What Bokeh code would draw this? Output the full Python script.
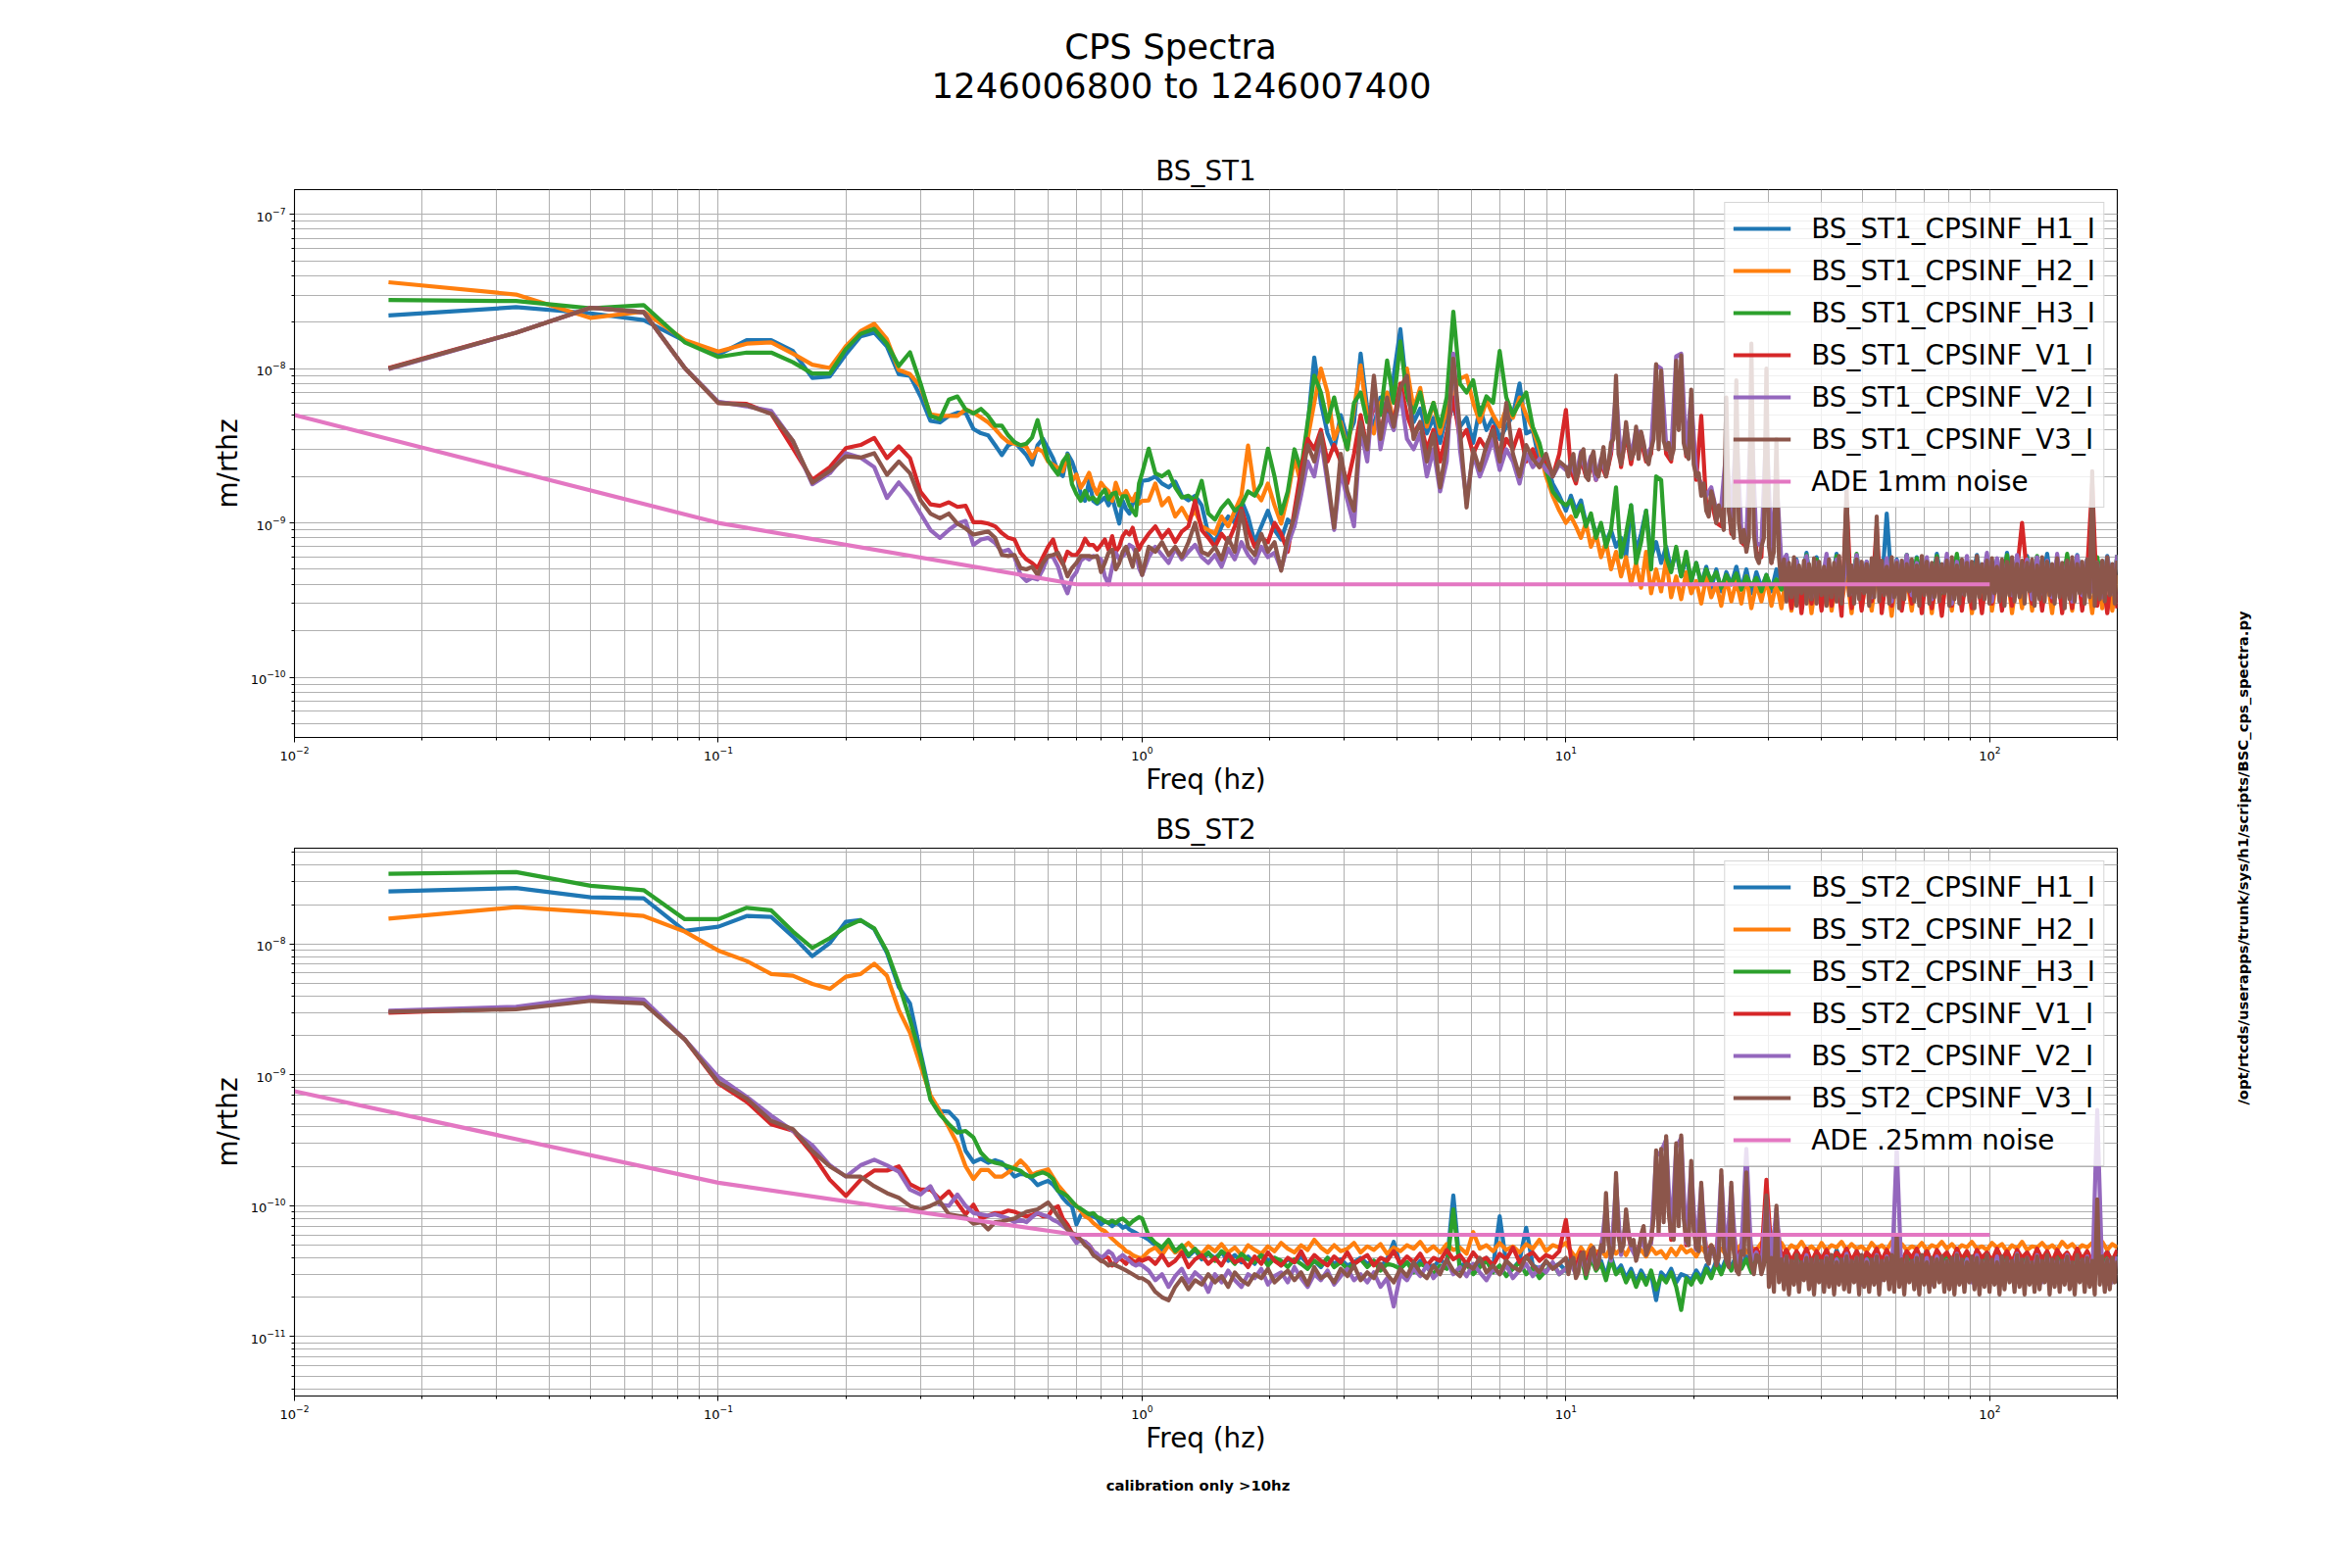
import numpy as np
from bokeh.plotting import figure
from bokeh.layouts import row, column
from bokeh.models import Range1d, FixedTicker, Label, Legend, LegendItem
from bokeh.embed import file_html
from bokeh.resources import INLINE

FONT = "DejaVu Sans"
COLORS = ["#1f77b4", "#ff7f0e", "#2ca02c", "#d62728", "#9467bd", "#8c564b"]
ADE_COLOR = "#e377c2"

# ---------------- data: BS_ST1 (values in units of 1e-11 m/rthz) ----------------
# lo: FFT bins k/60 Hz (k=1..60); mid: 1-10 Hz; hi: 10-200 Hz
st1_names = ["BS_ST1_CPSINF_H1_I", "BS_ST1_CPSINF_H2_I", "BS_ST1_CPSINF_H3_I",
             "BS_ST1_CPSINF_V1_I", "BS_ST1_CPSINF_V2_I", "BS_ST1_CPSINF_V3_I"]

st1_h1_lo = [2210,2500,2280,2060,1510,1230,1530,1530,1300,870,890,1240,1620,1710,1390,920,900,
             661,458,448,494,518,518,406,381,369,319,275,319,334,303,275,238,319,351,303,262,216,201,282,250,206,154,139,187,139,133,139,146,130,146,120,99,139,123,115,133,139,146,187]
st1_h2_lo = [3630,3020,2130,2340,1530,1290,1450,1480,1250,1060,1010,1400,1750,1950,1550,980,920,
             765,506,494,494,494,544,518,482,448,406,362,334,326,319,311,265,303,289,250,238,227,216,275,187,206,169,187,211,173,154,182,169,161,139,182,157,149,161,146,139,154,133,139]
st1_h3_lo = [2780,2740,2460,2580,1480,1190,1270,1270,1100,930,930,1340,1680,1810,1450,1040,1276,
             803,494,470,630,660,544,512,548,494,427,427,369,334,319,326,358,464,334,256,227,206,250,275,178,154,139,161,142,146,136,154,164,142,154,157,130,149,149,130,120,112,180,210]
st1_v1_lo = [1010,1710,2480,2320,1010,600,590,510,305,190,230,305,320,355,263,313,263,
             159,132,129,136,127,129,101,101,99,95,86,80,78,64,58,55,51,60,70,78,61,54,65,62,62,68,79,72,72,67,72,78,67,82,65,70,82,88,84,93,78,67,74]
st1_v2_lo = [990,1710,2480,2320,1010,610,570,531,340,178,210,283,265,230,145,183,150,
             115,90,80,90,99,103,72,78,80,74,65,67,60,46,42,44,43,50,61,60,52,41,35,44,48,57,60,58,61,60,58,45,40,52,64,58,61,64,72,70,64,51,46]
st1_v3_lo = [1000,1710,2480,2320,1010,600,580,510,340,182,217,270,265,283,205,250,210,
             140,115,107,115,99,92,84,86,88,80,62,61,62,51,50,52,46,55,61,62,64,55,45,51,55,61,61,61,60,61,48,55,64,67,50,55,65,70,60,52,67,58,46]

st1_h1_mid = [190,200,180,170,185,150,140,150,130,85,75,95,110,100,140,110,75,95,120,90,
              78,105,95,200,420,1180,600,380,300,500,350,450,1250,550,420,650,500,900,1800,700,
              450,550,380,480,330,520,560,420,480,330,560,400,480,350,420,500,800,380,400,250,
              250,180,150,120]
st1_h2_mid = [140,180,130,145,110,125,105,120,95,90,85,110,95,120,150,317,160,140,180,130,
              99,150,262,180,350,600,1000,700,350,450,300,550,1050,480,380,600,700,450,650,1000,
              550,750,420,600,380,550,700,860,900,600,450,620,500,420,550,480,650,500,406,300,
              200,150,120,100]
st1_h3_mid = [303,210,200,215,170,146,150,139,187,115,105,125,140,120,130,160,150,180,303,200,
              115,160,300,220,450,900,700,450,650,420,300,600,700,450,550,500,1130,600,1500,650,
              520,700,450,600,420,650,2340,800,700,840,500,660,600,1300,650,500,600,700,420,330,
              220,160,140,130]
st1_v1_mid = [85,95,80,90,75,88,95,139,90,80,70,85,75,95,124,90,70,80,75,100,
              85,65,120,220,350,300,400,250,320,250,180,280,500,300,650,380,600,450,800,500,
              380,450,300,400,250,380,650,350,400,280,350,300,420,260,350,300,400,250,300,230,
              260,200,280,540]
st1_v2_mid = [60,70,62,55,68,58,65,72,60,55,62,52,68,58,75,62,55,70,60,64,
              50,72,95,150,250,200,350,180,90,220,140,95,400,250,800,300,500,400,700,350,
              300,380,200,300,160,250,1250,300,140,280,200,260,350,220,300,250,180,280,230,260,
              220,200,240,220]
st1_v3_mid = [70,65,75,62,70,60,75,100,65,62,70,58,80,65,120,70,62,85,65,75,
              49,80,110,180,320,250,380,200,93,280,160,120,450,300,900,350,650,420,750,900,
              350,450,250,380,170,320,1160,400,126,300,220,320,400,250,600,280,200,320,260,230,
              280,200,250,230]

st1_h1_hi = [150,120,140,100,110,85,95,75,90,70,80,60,130,65,85,120,60,75,55,70,
             50,65,45,60,42,55,40,52,38,50,36,48,40,52,37,50,35,48,38,46,36,50,40,
             62,38,58,40,64,36,60,42,57,39,63,37,59,41,61,38,56,40,64,37,115,39,58,41,62,36,
             60,40,57,38,63,41,59,37,61,39,56,42,62,38,60,40,58,36,64,39,57,41,61,37,59,40,
             63,38,56,41,60,37,62,39,58,40,57,36,61,38,59]
st1_h2_hi = [110,95,80,100,70,85,60,75,50,65,45,60,40,55,38,65,35,50,36,58,
             33,45,32,48,35,42,30,45,33,40,29,44,31,42,30,45,28,40,31,43,29,41,28,
             48,27,45,29,50,26,46,28,49,27,44,30,47,26,51,28,45,27,48,29,46,25,50,28,44,27,
             49,30,46,26,48,28,45,27,51,29,47,26,44,28,49,27,46,30,48,26,45,28,50,27,47,29,
             44,26,49,28,46,27,48,30,45,26,50,28,47,27,46]
st1_h3_hi = [140,110,130,95,115,80,100,70,90,170,60,85,130,55,75,120,50,200,190,60,
             48,70,45,65,42,55,40,50,42,48,38,46,40,47,37,45,39,44,36,46,38,43,37,
             60,36,56,39,62,34,58,40,55,37,61,35,57,39,63,36,54,38,60,35,58,40,56,34,62,37,
             59,36,55,39,61,35,57,38,63,34,56,40,58,36,60,37,55,39,62,35,57,38,59,36,61,34,
             56,40,58,37,63,35,57,38,55,36,60,39,58,35,62]
st1_v1_hi = [220,180,260,200,250,190,240,200,280,600,230,380,240,360,340,250,280,800,700,280,
             250,900,850,270,550,190,494,130,140,100,95,200,85,300,75,70,400,65,60,350,55,150,50,
             50,28,52,26,48,30,54,27,49,29,51,25,140,28,53,27,50,31,95,26,48,29,52,27,46,30,
             54,26,49,28,45,25,51,29,48,27,53,28,47,26,50,30,48,27,52,29,49,100,46,30,51,27,
             48,31,50,26,47,28,53,27,49,180,29,48,26,51,28]
st1_v2_hi = [240,200,290,210,270,190,260,210,300,700,250,420,270,400,380,270,310,1050,1000,320,
             280,1200,1250,300,650,210,180,150,170,120,130,300,110,400,90,80,500,75,70,450,65,200,55,
             62,34,57,38,61,33,55,40,63,36,58,32,60,35,62,37,56,33,64,36,59,31,57,38,62,34,
             55,37,60,32,58,36,63,30,56,35,61,33,57,39,64,31,59,36,55,34,62,38,58,32,60,35,
             57,33,63,37,56,31,61,34,58,36,55,33,60,35,62]
st1_v3_hi = [200,250,280,190,210,280,300,200,190,260,290,210,200,250,310,200,240,330,350,900,
             280,240,300,450,320,260,280,420,260,390,330,260,240,300,350,1070,300,970,340,300,
             330,260,300,1125,400,1220,330,280,260,730,240,200,210,150,180,120,110,160,140,100,
             130,110,90,650,120,90,80,840,100,75,90,65,80,1450,85,60,55,70,80,1000,
             70,55,65,350,60,40,
             58,31,55,33,60,29,53,35,57,30,54,32,59,30,56,34,52,29,58,33,
             55,31,61,30,57,170,34,53,30,58,32,56,35,54,29,59,33,110,31,57,
             34,52,30,60,33,55,28,57,32,54,36,58,31,53,29,61,34,56,30,55,
             33,59,31,54,35,57,29,60,32,53,30,58,34,55,31,56,28,61,33,54,
             32,57,30,59,35,52,31,58,29,56,34,60,31,54,33,57,30,55,36,58,
             29,53,32,60,31,56,34,54,30,59,33,55,28,57,32,60,31,54,35,56,
             30,58,33,216,29,55,32,57,31,60,34,54,30,57]

# ---------------- data: BS_ST2 (values in units of 1e-12 m/rthz) ----------------
st2_names = ["BS_ST2_CPSINF_H1_I", "BS_ST2_CPSINF_H2_I", "BS_ST2_CPSINF_H3_I",
             "BS_ST2_CPSINF_V1_I", "BS_ST2_CPSINF_V2_I", "BS_ST2_CPSINF_V3_I"]

st2_h1_lo = [25230,26770,22770,22380,12590,13560,16380,16100,11420,8080,10180,14790,15220,13030,8570,4690,3520,1490,680,530,524,446,263,216,229,213,223,
             214,190,167,175,173,160,144,150,155,145,130,115,105,99,72,85,88,84,83,80,72,76,74,70,74,72,68,70,66,64,62,60,59]
st2_h2_lo = [15640,19150,17560,16380,12450,8920,7420,5900,5730,4960,4540,5630,5900,7080,5730,3130,2100,1180,700,530,397,297,200,160,188,188,167,
             167,180,198,222,200,173,180,185,190,165,144,130,118,106,100,92,83,80,74,70,66,64,60,56,53,50,48,45,44,42,41,40,40]
st2_h3_lo = [34430,35460,27850,25800,15480,15480,18940,18080,12450,9340,11100,13560,15220,13180,8810,4960,2640,1400,646,500,420,363,373,333,254,223,213,
             208,200,192,185,170,167,175,180,173,160,130,125,118,108,99,95,90,86,88,82,80,76,74,77,74,78,80,76,72,76,79,82,80]
st2_v1_lo = [2990,3220,3770,3560,1870,860,625,420,375,250,158,119,158,186,186,200,146,133,133,112,129,105,86,102,80,84,88,
             88,92,90,86,83,85,88,83,83,95,99,80,72,62,55,54,53,50,45,42,38,41,40,35,37,40,38,36,40,38,37,39,38]
st2_v2_lo = [3100,3320,3940,3770,1870,965,680,488,373,290,204,167,204,225,204,182,133,122,141,102,100,122,100,88,86,84,86,
             83,80,75,78,75,82,88,85,83,78,75,70,66,58,52,55,53,50,45,43,40,42,45,43,38,40,42,40,38,36,35,36,35]
st2_v3_lo = [3040,3170,3680,3520,1870,880,660,446,385,263,200,168,167,141,125,115,100,94,100,108,86,84,82,73,75,66,75,
             76,78,80,85,90,92,94,100,106,95,83,75,66,62,60,55,50,47,42,40,38,37,35,36,35,34,33,32,31,30,29,28,28]

st2_h1_mid = [55,50,46,52,44,48,41,46,39,43,40,44,38,42,37,41,36,43,38,40,
              35,39,37,41,36,38,34,40,36,39,35,37,40,36,38,34,39,53,35,37,
              33,38,36,34,39,35,120,34,37,33,36,40,34,83,36,33,38,68,35,33,37,34,36,32]
st2_h2_mid = [45,48,42,50,44,47,52,46,43,49,45,51,44,48,42,50,46,43,49,45,
              52,47,44,50,46,55,48,44,50,45,47,52,44,49,46,51,43,48,45,50,
              47,53,45,49,44,51,46,48,43,63,47,50,45,52,46,49,44,51,47,55,45,50,48,52]
st2_h3_mid = [59,52,48,55,45,50,42,47,40,44,38,45,41,36,43,39,37,42,35,40,
              38,34,39,36,33,38,35,40,34,37,33,36,39,34,38,32,36,35,33,37,
              31,36,34,30,35,33,94,32,36,30,34,38,31,35,29,33,37,30,34,28,32,36,30,33]
st2_v1_mid = [40,36,42,35,38,44,34,39,42,36,40,35,43,37,39,34,41,36,44,38,
              35,40,37,45,36,42,38,35,41,37,44,36,39,42,35,40,38,45,36,41,
              37,43,35,40,38,46,39,42,36,44,38,40,35,43,39,48,37,41,44,38,42,40,45,78]
st2_v2_mid = [32,27,30,24,29,33,26,31,28,22,30,26,32,27,24,30,28,33,25,29,
              31,26,34,28,24,30,27,32,25,29,33,27,30,26,31,24,28,17,30,27,
              33,29,35,28,32,38,30,34,29,36,31,27,33,30,35,28,32,36,29,34,31,37,30,33]
st2_v3_mid = [26,22,20,19,24,28,23,27,25,30,26,29,24,31,27,25,30,28,33,26,
              29,32,27,31,25,34,28,30,26,33,29,35,27,31,28,36,30,26,33,29,
              37,31,28,35,30,39,32,29,36,33,40,31,35,30,38,34,32,41,35,31,38,33,36,40]

st2_h1_hi = [40,32,44,30,42,34,38,29,41,31,35,28,33,26,32,27,30,19,31,28,
             33,26,30,29,27,32,28,35,30,38,32,40,34,42,35,41,33,44,36,42,
             35,43,37,45,34,42,36,46,35,43,37,44,34,46,36,42,35,45,37,43,
             34,46,36,44,35,42,37,45,34,43,36,46,35,44,37,42,34,45,36,43,
             35,46,37,44,34,42,36,45,35,43,37,44,34,46,36,42,35,45,37,43,
             34,46,36,44,35,42,37,45,34,43]
st2_h2_hi = [45,40,48,42,50,44,46,41,49,43,47,42,50,44,46,41,48,43,45,40,
             47,42,49,44,46,41,48,43,50,44,47,42,49,45,51,44,48,46,52,45,
             49,46,52,45,50,47,53,46,49,45,52,46,50,48,53,46,51,47,49,45,
             52,47,50,46,53,48,51,46,49,47,52,46,50,48,53,47,51,46,50,48,
             53,47,49,46,52,48,51,45,50,47,53,46,49,48,52,47,50,46,53,48,
             51,46,50,48,52,47,53,46,51,48]
st2_h3_hi = [38,30,42,28,40,32,36,27,39,30,33,26,31,24,30,25,32,23,29,26,
             31,24,16,28,25,30,26,33,28,36,30,38,32,40,33,39,31,42,34,40,
             33,41,35,43,32,40,34,44,33,41,35,42,32,44,34,40,33,43,35,41,
             32,44,34,42,33,40,35,43,32,41,34,44,33,42,35,40,32,43,34,41,
             33,44,35,42,32,40,34,43,33,41,35,42,32,44,34,40,33,43,35,41,
             32,44,34,42,33,40,35,43,32,41]
st2_v1_hi = [40,34,44,36,46,38,48,80,42,110,45,70,48,42,55,46,52,150,180,200,
             55,170,200,50,140,47,110,45,49,42,120,44,100,41,46,130,43,47,40,158,
             44,80,40,46,38,45,39,47,37,45,39,46,38,44,40,47,38,45,37,44,
             40,47,38,46,39,48,37,45,40,47,38,45,37,46,40,44,38,47,39,45,
             37,46,40,44,38,47,39,45,37,46,40,44,38,47,39,45,37,46,40,44,
             38,47,39,45,37,46,40,44,38,46]
st2_v2_hi = [36,30,40,32,42,35,46,100,38,150,42,80,48,40,55,45,52,240,260,320,
             58,280,330,52,200,46,140,42,48,38,170,40,140,36,45,272,38,44,34,110,
             38,95,32,41,28,39,30,42,27,40,29,41,26,39,30,43,28,40,25,39,
             31,42,27,41,29,280,26,39,30,42,28,40,25,41,31,38,27,43,29,39,
             26,42,30,40,28,41,25,39,31,43,27,40,29,42,26,41,30,39,28,42,
             25,40,31,41,27,540,29,39,26,41]
st2_v3_hi = [30,38,40,28,31,42,44,30,34,45,48,33,36,50,45,125,52,40,48,178,
             58,45,50,94,62,50,55,38,45,60,70,42,48,55,80,265,60,272,75,340,
             90,60,55,300,70,345,80,55,50,220,65,48,45,150,58,40,36,50,46,35,
             40,187,48,38,34,150,44,32,30,45,42,180,46,35,30,42,41,30,35,120,
             24,40,22,100,26,39,23,41,21,38,25,42,22,37,27,40,23,39,21,41,
             26,38,22,40,24,42,21,37,25,39,23,41,22,38,26,40,21,42,24,37,
             22,39,25,41,21,38,27,40,23,42,22,60,24,39,21,41,26,38,23,40,
             21,42,25,37,22,40,24,39,26,41,22,38,23,40,21,42,25,39,22,37,
             26,41,23,40,21,38,24,42,22,39,25,37,21,41,23,40,26,38,22,42,
             24,39,21,40,25,37,22,41,23,38,26,42,21,39,24,40,22,38,25,41,
             23,37,21,42,26,39,22,40,24,38,21,112,25,41,22,39,23,40,26,38]

# ---------------- ADE noise references ----------------
ade_freq = [0.01, 0.1, 0.7, 100.0]
ade_1mm = [5.0e-9, 1.0e-9, 4.0e-10, 4.0e-10]
ade_025mm = [7.5e-10, 1.5e-10, 6.0e-11, 6.0e-11]

x_major = [0.01, 0.1, 1.0, 10.0, 100.0]
x_minor = [k * 10.0 ** e for e in range(-2, 3) for k in range(2, 10)]

MAIN_W = 2238
FRAME_L = 300      # canvas x of the plot frames' left edge
LW = 4.2


def build(lo, mid, hi, unit):
    f = np.concatenate([np.arange(1, len(lo) + 1) / 60.0,
                        np.geomspace(1.0, 10.0, len(mid) + 1)[1:],
                        np.geomspace(10.0, 200.0, len(hi) + 1)[1:]])
    v = np.concatenate([np.asarray(lo, float), np.asarray(mid, float), np.asarray(hi, float)]) * unit
    return f, v


def style_axis(ax):
    ax.major_label_text_font = FONT
    ax.major_label_text_font_size = "13px"
    ax.major_label_text_color = "black"
    ax.axis_label_text_font = FONT
    ax.axis_label_text_font_size = "27.8px"
    ax.axis_label_text_font_style = "normal"
    ax.axis_label_text_color = "black"
    ax.axis_line_color = "black"
    ax.major_tick_line_color = "black"
    ax.minor_tick_line_color = "black"
    ax.major_tick_out = 5
    ax.major_tick_in = 0
    ax.minor_tick_out = 3
    ax.minor_tick_in = 0
    ax.major_label_standoff = 4


def text_strip(width, height, labels):
    s = figure(width=width, height=height, x_range=Range1d(0, 1), y_range=Range1d(0, 1),
               output_backend="svg", toolbar_location=None, title=None,
               x_axis_location=None, y_axis_location=None,
               min_border_left=0, min_border_right=0, min_border_top=0, min_border_bottom=0)
    s.grid.visible = False
    s.outline_line_color = None
    s.background_fill_color = "white"
    s.border_fill_color = "white"
    for lab in labels:
        s.add_layout(lab)
    return s


def lbl(x, y, text, size, style="normal", angle=0.0):
    return Label(x=x, y=y, x_units="screen", y_units="screen", text=text,
                 text_font=FONT, text_font_size=size, text_font_style=style,
                 text_color="black", text_align="center", text_baseline="middle",
                 angle=angle)


def make_panel(height, b_top, b_bottom, yr, names, los, mids, his, unit,
               ade_label, ade_vals, y_exps):
    p = figure(width=MAIN_W, height=height, x_axis_type="log", y_axis_type="log",
               x_range=Range1d(0.01, 200.0), y_range=Range1d(yr[0], yr[1]),
               output_backend="svg", toolbar_location=None, title=None,
               min_border_left=FRAME_L, min_border_right=MAIN_W - 2160,
               min_border_top=b_top, min_border_bottom=b_bottom)
    p.background_fill_color = "white"
    p.border_fill_color = "white"
    p.outline_line_color = "black"
    p.outline_line_width = 1.1

    y_major = [10.0 ** e for e in y_exps]
    y_minor = [k * 10.0 ** e for e in range(y_exps[0] - 1, y_exps[-1] + 1) for k in range(2, 10)]
    xt = FixedTicker(ticks=x_major, minor_ticks=x_minor)
    yt = FixedTicker(ticks=y_major, minor_ticks=y_minor)
    p.xaxis.ticker = xt
    p.yaxis.ticker = yt
    p.xgrid.ticker = xt
    p.ygrid.ticker = yt
    for g in (p.xgrid, p.ygrid):
        g.grid_line_color = "#b0b0b0"
        g.grid_line_width = 1
        g.minor_grid_line_color = "#b0b0b0"
        g.minor_grid_line_width = 1
    style_axis(p.xaxis[0])
    style_axis(p.yaxis[0])
    p.xaxis.axis_label = "Freq (hz)"
    p.xaxis.axis_label_standoff = 0
    p.yaxis.axis_label = "m/rthz"
    p.yaxis.axis_label_standoff = 4

    items = []
    for name, color, lo, mid, hi in zip(names, COLORS, los, mids, his):
        f, v = build(lo, mid, hi, unit)
        r = p.line(f, v, line_color=color, line_width=LW, line_join="round")
        items.append(LegendItem(label=name, renderers=[r]))
    r = p.line(ade_freq, ade_vals, line_color=ADE_COLOR, line_width=LW, line_join="round")
    items.append(LegendItem(label=ade_label, renderers=[r]))

    legend = Legend(items=items, location="top_right", margin=13, padding=8,
                    spacing=7, glyph_width=59, glyph_height=36, label_height=36,
                    label_standoff=21, label_text_font=FONT,
                    label_text_font_size="27.8px", label_text_color="black",
                    background_fill_color="white", background_fill_alpha=0.8,
                    border_line_color="#cccccc", border_line_alpha=0.8,
                    border_line_width=1)
    p.add_layout(legend)
    return p


# strips in the column share the panels' frame offset (FRAME_L), so x is relative to it
header = text_strip(MAIN_W, 191, [
    lbl(1194 - FRAME_L, 191 - 47, "CPS Spectra", "35.5px"),
    lbl(1205 - FRAME_L, 191 - 87, "1246006800 to 1246007400", "35.5px"),
    lbl(1230 - FRAME_L, 191 - 173.7, "BS_ST1", "27.8px"),
])

# top panel: canvas y 191..826, frame 193..752
p1 = make_panel(635, 2, 74, (4.07e-11, 1.445e-7), st1_names,
                [st1_h1_lo, st1_h2_lo, st1_h3_lo, st1_v1_lo, st1_v2_lo, st1_v3_lo],
                [st1_h1_mid, st1_h2_mid, st1_h3_mid, st1_v1_mid, st1_v2_mid, st1_v3_mid],
                [st1_h1_hi, st1_h2_hi, st1_h3_hi, st1_v1_hi, st1_v2_hi, st1_v3_hi],
                1e-11, "ADE 1mm noise", ade_1mm, [-10, -9, -8, -7])

# middle strip: canvas y 826..864
mid_strip = text_strip(MAIN_W, 38, [lbl(1230 - FRAME_L, 864 - 845.7, "BS_ST2", "27.8px")])

# bottom panel: canvas y 864..1492, frame 865..1424
p2 = make_panel(628, 1, 68, (3.52e-12, 5.4e-8), st2_names,
                [st2_h1_lo, st2_h2_lo, st2_h3_lo, st2_v1_lo, st2_v2_lo, st2_v3_lo],
                [st2_h1_mid, st2_h2_mid, st2_h3_mid, st2_v1_mid, st2_v2_mid, st2_v3_mid],
                [st2_h1_hi, st2_h2_hi, st2_h3_hi, st2_v1_hi, st2_v2_hi, st2_v3_hi],
                1e-12, "ADE .25mm noise", ade_025mm, [-11, -10, -9, -8])

# footer strip: canvas y 1492..1584
footer = text_strip(MAIN_W, 92, [lbl(1222 - FRAME_L, 1584 - 1515, "calibration only >10hz", "14.8px", "bold")])

# right strip with the script path
side = text_strip(2384 - MAIN_W, 1584, [
    lbl(2288 - MAIN_W, 1584 - 875, "/opt/rtcds/userapps/trunk/sys/h1/scripts/BSC_cps_spectra.py",
        "14.8px", "bold", np.pi / 2),
])

layout = row(column(header, p1, mid_strip, p2, footer), side)
open("out.html", "w").write(file_html(layout, INLINE, title="CPS Spectra"))
